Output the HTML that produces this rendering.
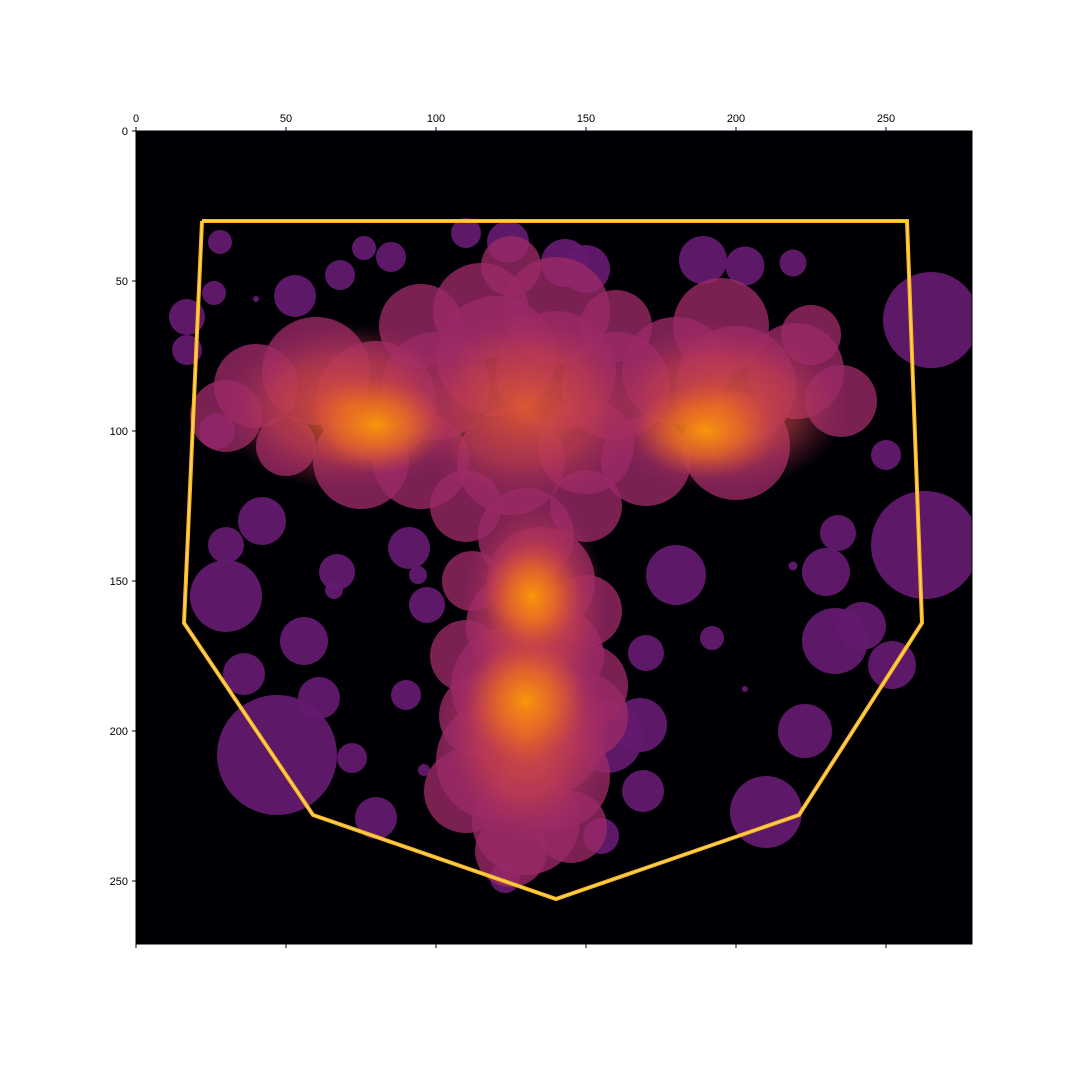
<!DOCTYPE html>
<html><head><meta charset="utf-8"><style>
body{margin:0;background:#fff;}
svg{display:block;font-family:"Liberation Sans",sans-serif;}
</style></head><body>
<svg id="chart" width="1080" height="1080" viewBox="0 0 1080 1080">
<defs>
<radialGradient id="glowHot"><stop offset="0" stop-color="#fb9b06" stop-opacity="0.95"/><stop offset="0.5" stop-color="#f47a18" stop-opacity="0.6"/><stop offset="1" stop-color="#e0562f" stop-opacity="0"/></radialGradient>
<radialGradient id="glowWarm"><stop offset="0" stop-color="#e85f2a" stop-opacity="0.85"/><stop offset="0.6" stop-color="#c9414a" stop-opacity="0.55"/><stop offset="1" stop-color="#a52c60" stop-opacity="0"/></radialGradient>
<clipPath id="plotClip"><rect x="136" y="131" width="836" height="813"/></clipPath>
</defs>
<rect x="136" y="131" width="836" height="813" fill="#000004"/>
<g id="layers" clip-path="url(#plotClip)"></g>
<rect x="136" y="131" width="836" height="813" fill="none" stroke="#000" stroke-width="1"/>
<g id="axes"></g>
</svg>
<script>
const xTicks=[0,50,100,150,200,250];
const yTicks=[0,50,100,150,200,250];
const outerCircles=[[47,208,20],[265,63,16],[263,138,18],[210,227,12],[223,200,9],[189,43,8],[203,45,6.5],[219,44,4.5],[28,37,4],[76,39,4],[85,42,5],[68,48,5],[53,55,7],[17,62,6],[17,73,5],[26,54,4],[27,100,6],[42,130,8],[30,155,12],[30,138,6],[250,108,5],[234,134,6],[230,147,8],[242,165,8],[233,170,11],[252,178,8],[180,148,10],[192,169,4],[170,174,6],[168,198,9],[169,220,7],[157,202,12],[56,170,8],[36,181,7],[61,189,7],[72,209,5],[80,229,7],[90,188,5],[96,213,2],[67,147,6],[66,153,3],[91,139,7],[94,148,3],[97,158,6],[123,249,5],[155,235,6],[110,34,5],[124,37,7],[143,44,8],[150,46,8],[40,56,1],[219,145,1.5],[203,186,1]];
const bodyCircles=[[40,85,14],[60,80,18],[80,90,20],[100,85,18],[120,75,20],[140,80,20],[160,85,18],[180,80,18],[200,85,20],[220,80,16],[235,90,12],[30,95,12],[95,110,16],[125,110,18],[150,105,16],[170,110,15],[200,105,18],[75,110,16],[115,60,16],[140,60,18],[160,65,12],[95,65,14],[195,65,16],[225,68,10],[50,105,10],[110,125,12],[150,125,12],[125,45,10],[130,135,16],[135,150,18],[128,165,18],[140,175,16],[125,185,20],[135,200,22],[120,210,20],[140,215,18],[130,230,18],[115,195,14],[150,195,14],[125,240,12],[150,160,12],[112,150,10],[110,175,12],[150,185,14],[110,220,14],[145,232,12]];
const warmGlows=[[70,92,42,28],[195,92,42,28],[130,92,40,32],[133,160,24,38],[130,200,28,38]];
const hotGlows=[[80,98,24,16],[190,100,24,16],[132,155,16,18],[130,190,20,20]];
const hullX=[22,257,262,221,140,59,16,22];
const hullY=[30,30,164,228,256,228,164,30];
const X0=136,Y0=131,S=3;
const sx=v=>X0+v*S, sy=v=>Y0+v*S;
const NS='http://www.w3.org/2000/svg';
const L=document.getElementById('layers'),A=document.getElementById('axes');
function mk(t,p,a){const e=document.createElementNS(NS,t);for(const k in a)e.setAttribute(k,a[k]);p.appendChild(e);return e;}
outerCircles.forEach(c=>{const e=mk('circle',L,{cx:sx(c[0]),cy:sy(c[1]),r:c[2]*S,fill:'#63196e','fill-opacity':0.95});

});
bodyCircles.forEach(c=>{const e=mk('circle',L,{cx:sx(c[0]),cy:sy(c[1]),r:c[2]*S,fill:'#9a2966','fill-opacity':0.8});

});
warmGlows.forEach(g=>{const e=mk('ellipse',L,{cx:sx(g[0]),cy:sy(g[1]),rx:g[2]*S,ry:g[3]*S,fill:'url(#glowWarm)'});

});
hotGlows.forEach(g=>{const e=mk('ellipse',L,{cx:sx(g[0]),cy:sy(g[1]),rx:g[2]*S,ry:g[3]*S,fill:'url(#glowHot)'});

});
const pts=hullX.map((x,i)=>sx(x)+','+sy(hullY[i])).join(' ');
const h=mk('polyline',L,{points:pts,fill:'none',stroke:'#fcb51f','stroke-width':4,'stroke-linejoin':'miter'});


const h2=mk('polyline',L,{points:pts,fill:'none',stroke:'#fcf5a0','stroke-width':1,'stroke-opacity':0.7});


xTicks.forEach(v=>{const x=sx(v);
const t=mk('line',A,{x1:x,y1:131,x2:x,y2:127,stroke:'#000'});


const b=mk('line',A,{x1:x,y1:944,x2:x,y2:948,stroke:'#000'});


const tx=mk('text',A,{x:x,y:122,'font-size':11,'text-anchor':'middle',fill:'#000'});tx.textContent=v;

});
yTicks.forEach(v=>{const y=sy(v);
const t=mk('line',A,{x1:136,y1:y,x2:132,y2:y,stroke:'#000'});


const tx=mk('text',A,{x:128,y:y+4,'font-size':11,'text-anchor':'end',fill:'#000'});tx.textContent=v;

});
</script>
</body></html>
